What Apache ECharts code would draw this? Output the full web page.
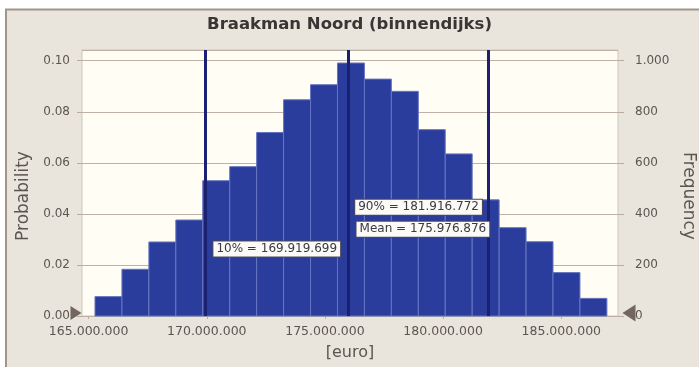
<!DOCTYPE html>
<html>
<head>
<meta charset="utf-8">
<title>Braakman Noord (binnendijks)</title>
<script src="https://cdn.jsdelivr.net/npm/echarts@6/dist/echarts.min.js"></script>
<style>
  html, body { margin: 0; padding: 0; background: #ffffff; }
  #chart { width: 699px; height: 367px; }
</style>
</head>
<body>
<div id="chart"></div>
<script>
// Histogram bin edges in euro (19 bins)
const binEdges = [
  165.27e6, 166.41e6, 167.55e6, 168.69e6, 169.83e6, 170.97e6, 172.11e6,
  173.25e6, 174.39e6, 175.53e6, 176.67e6, 177.81e6, 178.95e6, 180.09e6,
  181.23e6, 182.37e6, 183.51e6, 184.65e6, 185.79e6, 186.93e6
];
// Probability per bin
const probabilities = [
  0.0076, 0.0183, 0.0290, 0.0376, 0.0530, 0.0585, 0.0719, 0.0847, 0.0906,
  0.0991, 0.0928, 0.0880, 0.0730, 0.0635, 0.0455, 0.0346, 0.0291, 0.0170, 0.0069
];
// Reference statistics
const statNames = ['10%', 'Mean', '90%'];
const statValues = [169919699, 175976876, 181916772];
// Height (probability) at which each statistic label sits
const statLabelY = [0.0262, 0.0340, 0.0426];
const statLabelSide = ['right', 'right', 'left'];
// Axis ticks
const xTicks = [165e6, 170e6, 175e6, 180e6, 185e6];
const xMin = 164.72e6, xMax = 187.40e6;
const probMax = 0.1042, freqMax = 1042;

const FONT = 'DejaVu Sans, Verdana, sans-serif';
const textGray = '#5b5650';
const fmtDots = v => Math.round(v).toString().replace(/\B(?=(\d{3})+(?!\d))/g, '.');

const histData = probabilities.map((p, i) => [binEdges[i], binEdges[i + 1], p]);

const chart = echarts.init(document.getElementById('chart'), null, { renderer: 'canvas' });

chart.setOption({
  backgroundColor: '#ffffff',
  animation: false,
  graphic: [{
    type: 'rect', z: -10, silent: true,
    shape: { x: 6, y: 9.5, width: 700, height: 370 },
    style: { fill: '#e9e4dc', stroke: '#a3948a', lineWidth: 2 }
  }],
  title: {
    text: 'Braakman Noord (binnendijks)',
    left: 'center', top: 11,
    textStyle: { fontFamily: FONT, fontSize: 16.5, fontWeight: 'bold', color: '#3a3535' }
  },
  grid: {
    left: 82, right: 81, top: 50, bottom: 51,
    outerBoundsMode: 'none', containLabel: false,
    show: true, backgroundColor: '#fffdf4', borderColor: '#cfc7bb', borderWidth: 1
  },
  xAxis: {
    type: 'value', min: xMin, max: xMax,
    name: '[euro]', nameLocation: 'middle', nameGap: 29,
    nameTextStyle: { fontFamily: FONT, fontSize: 16, color: textGray },
    axisLine: { show: false },
    splitLine: { show: false },
    axisTick: { show: true, length: 3, customValues: xTicks, lineStyle: { color: '#b7ada1' } },
    axisLabel: {
      customValues: xTicks, margin: 9,
      fontFamily: FONT, fontSize: 12.5, color: textGray,
      formatter: v => fmtDots(v)
    }
  },
  yAxis: [{
    type: 'value', min: 0, max: probMax, interval: 0.02,
    name: 'Probability', nameLocation: 'middle', nameGap: 41,
    nameTextStyle: { fontFamily: FONT, fontSize: 17, color: textGray, padding: [0, 26, 0, 0] },
    axisLine: { show: false },
    axisTick: { show: true, length: 5, lineStyle: { color: '#b7ada1' } },
    splitLine: { show: true, lineStyle: { color: '#bdb2a5', width: 1 } },
    axisLabel: {
      showMaxLabel: false, margin: 12,
      fontFamily: FONT, fontSize: 12, color: textGray,
      formatter: v => v.toFixed(2)
    }
  }, {
    type: 'value', min: 0, max: freqMax, interval: 200, position: 'right',
    name: 'Frequency', nameLocation: 'middle', nameGap: 55, nameRotate: -90,
    nameTextStyle: { fontFamily: FONT, fontSize: 17, color: textGray, padding: [0, 0, 0, 26] },
    axisLine: { show: false },
    axisTick: { show: true, length: 6, lineStyle: { color: '#b7ada1' } },
    splitLine: { show: false },
    axisLabel: {
      showMaxLabel: false, margin: 17,
      fontFamily: FONT, fontSize: 12, color: textGray,
      formatter: v => fmtDots(v)
    }
  }],
  series: [{
    type: 'custom',
    name: 'Probability',
    xAxisIndex: 0, yAxisIndex: 0,
    encode: { x: [0, 1], y: 2 },
    data: histData,
    renderItem: (params, api) => {
      const topLeft = api.coord([api.value(0), api.value(2)]);
      const bottomRight = api.coord([api.value(1), 0]);
      return {
        type: 'rect',
        shape: {
          x: topLeft[0], y: topLeft[1],
          width: bottomRight[0] - topLeft[0], height: bottomRight[1] - topLeft[1]
        },
        style: { fill: '#2a3d9c', stroke: '#6675c0', lineWidth: 1 }
      };
    }
  }, {
    type: 'line',
    name: 'Statistics',
    xAxisIndex: 0, yAxisIndex: 0,
    data: [],
    markLine: {
      silent: true, symbol: 'none',
      label: { show: false },
      lineStyle: { color: '#1b2170', width: 3, type: 'solid' },
      data: statValues.map(v => ({ xAxis: v }))
    },
    markPoint: {
      silent: true,
      data: statValues.map((v, i) => ({
        coord: [v, statLabelY[i]],
        symbol: 'rect', symbolSize: 1,
        itemStyle: { color: 'rgba(0,0,0,0)' },
        label: {
          show: true,
          position: statLabelSide[i],
          distance: statLabelSide[i] === 'right' ? 8 : 6,
          formatter: statNames[i] + ' = ' + fmtDots(v),
          fontFamily: FONT, fontSize: 12, color: '#3a3a44',
          backgroundColor: '#fbfaf6', borderColor: '#4b4a58', borderWidth: 1,
          padding: [2, 3, 1, 3]
        }
      })).concat([{
        coord: [xMin, 0], symbol: 'triangle', symbolRotate: -90,
        symbolSize: [14, 11], symbolOffset: [-6, -3],
        itemStyle: { color: '#73665e' }, label: { show: false }
      }, {
        coord: [xMax, 0], symbol: 'triangle', symbolRotate: 90,
        symbolSize: [17, 13], symbolOffset: [11, -3],
        itemStyle: { color: '#73665e' }, label: { show: false }
      }])
    }
  }]
});
</script>
</body>
</html>
